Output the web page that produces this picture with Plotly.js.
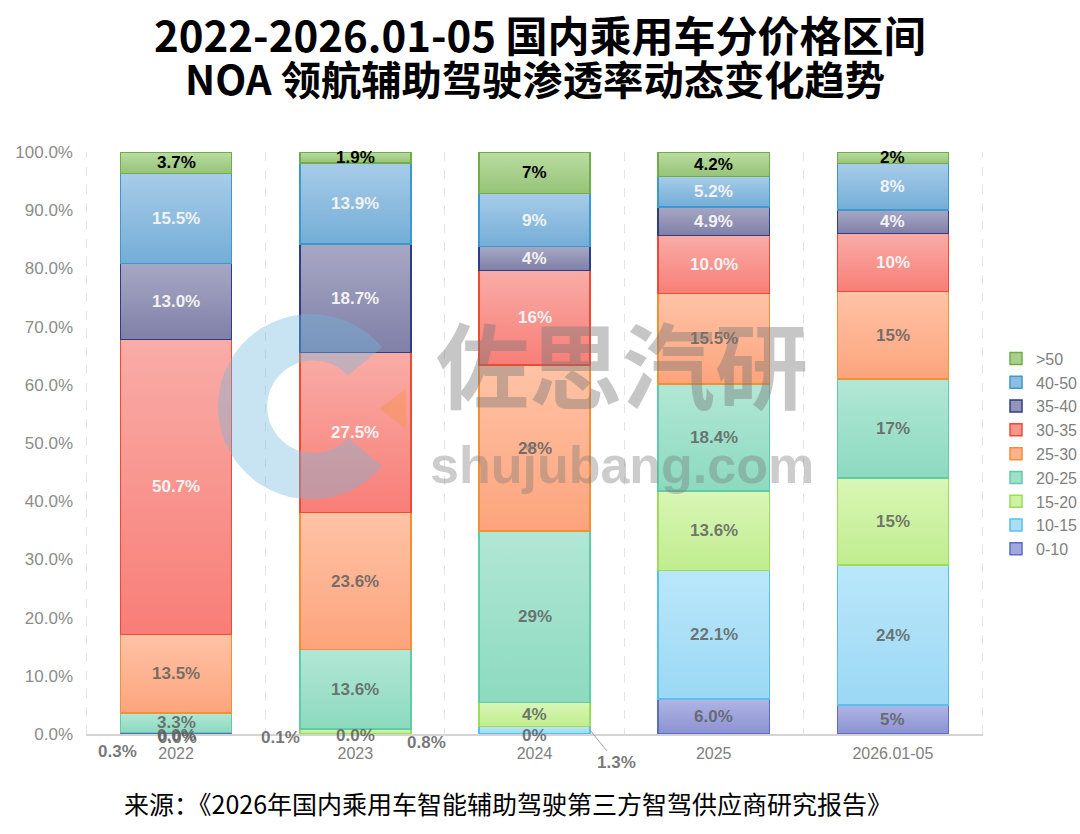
<!DOCTYPE html>
<html>
<head>
<meta charset="utf-8">
<script src="https://cdn.plot.ly/plotly-3.0.1.min.js"></script>
<style>html,body{margin:0;padding:0;background:#fff;}#chart{width:1080px;height:834px;}</style>
</head>
<body>
<div id="chart"></div>
<script>
// ---------- DATA ----------
var categories = ['2022', '2023', '2024', '2025', '2026.01-05'];
var seriesNames = ['0-10', '10-15', '15-20', '20-25', '25-30', '30-35', '35-40', '40-50', '>50'];

var v0_10   = [0.3, 0.1, 0, 6.0, 5];
var v10_15  = [0.0, 0.0, 1.3, 22.1, 24];
var v15_20  = [0.0, 0.8, 4, 13.6, 15];
var v20_25  = [3.3, 13.6, 29, 18.4, 17];
var v25_30  = [13.5, 23.6, 28, 15.5, 15];
var v30_35  = [50.7, 27.5, 16, 10.0, 10];
var v35_40  = [13.0, 18.7, 4, 4.9, 4];
var v40_50  = [15.5, 13.9, 9, 5.2, 8];
var v50     = [3.7, 1.9, 7, 4.2, 2];

var l0_10   = ['0.3%', '0.1%', '0%', '6.0%', '5%'];
var l10_15  = ['0.0%', '0.0%', '1.3%', '22.1%', '24%'];
var l15_20  = ['0.0%', '0.8%', '4%', '13.6%', '15%'];
var l20_25  = ['3.3%', '13.6%', '29%', '18.4%', '17%'];
var l25_30  = ['13.5%', '23.6%', '28%', '15.5%', '15%'];
var l30_35  = ['50.7%', '27.5%', '16%', '10.0%', '10%'];
var l35_40  = ['13.0%', '18.7%', '4%', '4.9%', '4%'];
var l40_50  = ['15.5%', '13.9%', '9%', '5.2%', '8%'];
var l50     = ['3.7%', '1.9%', '7%', '4.2%', '2%'];

var yTickVals = [0, 10, 20, 30, 40, 50, 60, 70, 80, 90, 100];
var yTickText = ['0.0%', '10.0%', '20.0%', '30.0%', '40.0%', '50.0%', '60.0%', '70.0%', '80.0%', '90.0%', '100.0%'];

// ---------- STYLE ----------
var values = [v0_10, v10_15, v15_20, v20_25, v25_30, v30_35, v35_40, v40_50, v50];
var labels = [l0_10, l10_15, l15_20, l20_25, l25_30, l30_35, l35_40, l40_50, l50];
var fills = ['#a1a7dc', '#aadff7', '#cdf2a2', '#a0e0cb', '#fdb28e', '#f8958e', '#9494b4', '#8dbddf', '#a8cf8c'];
var gradTop = ['#b0b5e5', '#bae7fa', '#d9f6b6', '#b2e7d6', '#ffc3a6', '#f9aca7', '#a7a7c4', '#a7cce9', '#badda2'];
var gradBot = ['#8a92d1', '#9bd8f4', '#c0ed8e', '#8cdabf', '#fca47c', '#f87e77', '#8080a8', '#74add6', '#96c378'];
var lines = ['#5b6bc8', '#56c1ee', '#99de55', '#5ecca6', '#f39033', '#ee4b35', '#2e3d8a', '#3a9ad0', '#70ad47'];
var GRAY = 'rgba(95,95,95,0.85)';
var txtColors = [GRAY, GRAY, GRAY, GRAY, GRAY, '#f2f2f2', '#f2f2f2', '#f2f2f2', '#000000'];
var BAR_W = 0.62;
var labelFont = {family: 'Liberation Sans, Arial, sans-serif', size: 17, weight: 700};

// label cells drawn beside the bar: [series, category, dx(cat units), xshift, yshift, leader ax, ay]
var callouts = [
  [0, 0, -0.325, 0, -18, null, null],
  [1, 0, 0, 0, -3, null, null],
  [2, 0, 0, 1, -5, null, null],
  [0, 1, -0.42, 0, -4, null, null],
  [1, 1, 0, 0, -2, null, null],
  [2, 1, 0.40, 0, -11, null, null],
  [0, 2, 0, 0, -1, null, null],
  [1, 2, BAR_W / 2, 0, 0, 26, 32]
];

var totals = categories.map(function (c, j) {
  return values.reduce(function (s, arr) { return s + arr[j]; }, 0);
});

var traces = seriesNames.map(function (name, i) {
  return {
    type: 'bar',
    name: name,
    x: categories,
    y: values[i],
    width: BAR_W,
    marker: {color: fills[i], line: {color: lines[i], width: 1.5}},
    hoverinfo: 'skip'
  };
});

function calloutFor(i, j) {
  for (var n = 0; n < callouts.length; n++) if (callouts[n][0] === i && callouts[n][1] === j) return callouts[n];
  return null;
}

var annotations = [];
seriesNames.forEach(function (name, i) {
  categories.forEach(function (cat, j) {
    var below = 0;
    for (var k = 0; k < i; k++) below += values[k][j];
    var mid = (below + values[i][j] / 2) / totals[j] * 100;
    var c = calloutFor(i, j);
    var a = {
      x: j, y: mid, xref: 'x', yref: 'y', showarrow: false,
      text: labels[i][j],
      font: Object.assign({}, labelFont, {color: txtColors[i]})
    };
    if (c) {
      a.x = j + c[2]; a.xshift = c[3]; a.yshift = c[4];
      a.font = Object.assign({}, labelFont, {color: GRAY});
      if (c[5] !== null) {
        a.showarrow = true; a.arrowhead = 0; a.arrowwidth = 1; a.arrowcolor = '#a0a0a0';
        a.ax = c[5]; a.ay = c[6]; a.standoff = 0;
      }
    }
    annotations.push(a);
  });
});

// watermark
annotations.push({
  xref: 'paper', yref: 'paper', x: 0.598, y: 0.64, showarrow: false,
  text: '佐思汽研', font: {family: 'Noto Sans CJK SC', size: 93, weight: 700, color: 'rgba(120,120,120,0.42)'}
});
annotations.push({
  xref: 'paper', yref: 'paper', x: 0.598, y: 0.462, showarrow: false,
  text: 'shujubang.com', font: {family: 'Liberation Sans, Arial, sans-serif', size: 52, weight: 700, color: 'rgba(120,120,120,0.38)'}
});
// titles
annotations.push({
  xref: 'paper', yref: 'paper', x: 0.5056, y: 1.2035, xanchor: 'center', yanchor: 'middle', showarrow: false,
  text: '2022-2026.01-05 国内乘用车分价格区间',
  font: {family: 'Noto Sans CJK SC', size: 42, weight: 700, color: '#000000'}
});
annotations.push({
  xref: 'paper', yref: 'paper', x: 0.5, y: 1.128, xanchor: 'center', yanchor: 'middle', showarrow: false,
  text: 'NOA 领航辅助驾驶渗透率动态变化趋势',
  font: {family: 'Noto Sans CJK SC', size: 40.3, weight: 700, color: '#000000'}
});
// source
annotations.push({
  xref: 'paper', yref: 'paper', x: 0.0401, y: -0.1186, xanchor: 'left', yanchor: 'middle', showarrow: false,
  text: '来源：《2026年国内乘用车智能辅助驾驶第三方智驾供应商研究报告》',
  font: {family: 'Noto Sans CJK SC', size: 25, color: '#000000'}
});

var edgeLines = [-0.5, categories.length - 0.5].map(function (xv) {
  return {type: 'line', xref: 'x', yref: 'paper', x0: xv, x1: xv, y0: 0, y1: 1,
    line: {color: '#e4e4e4', width: 1, dash: 'dash'}, layer: 'below'};
});

var logoSvg = '<svg xmlns="http://www.w3.org/2000/svg" width="200" height="200" viewBox="0 0 200 200">' +
  '<path d="M170.5,40.9 A92,92 0 1,0 170.5,159.1 L136.8,130.9 A46,46 0 1,1 136.8,69.1 Z" fill="rgb(110,185,222)" fill-opacity="0.38"/>' +
  '<path d="M168,102 L194,82 L194,122 Z" fill="rgb(245,150,90)" fill-opacity="0.55"/></svg>';

var layout = {
  width: 1080, height: 834,
  margin: {l: 86, r: 97, t: 152, b: 100, autoexpand: false},
  paper_bgcolor: '#ffffff', plot_bgcolor: '#ffffff',
  barmode: 'stack', barnorm: 'percent',
  showlegend: true,
  xaxis: {
    type: 'category',
    showline: true, linecolor: '#d4d4d4', linewidth: 1.5,
    ticks: '', tickson: 'boundaries',
    showgrid: true, gridcolor: '#e4e4e4', griddash: 'dash', gridwidth: 1,
    ticklabelstandoff: 4,
    tickfont: {family: 'Liberation Sans, Arial, sans-serif', size: 16, color: '#808080'},
    fixedrange: true
  },
  yaxis: {
    range: [0, 100], tickvals: yTickVals, ticktext: yTickText,
    showgrid: false, zeroline: false, showline: false, ticks: '',
    ticklabelstandoff: 12,
    tickfont: {family: 'Liberation Sans, Arial, sans-serif', size: 17, color: '#8c8c8c'},
    fixedrange: true
  },
  legend: {
    x: 1.0145, xanchor: 'left', y: 0.481, yanchor: 'middle',
    traceorder: 'reversed',
    font: {family: 'Liberation Sans, Arial, sans-serif', size: 16, color: '#808080'},
    bgcolor: 'rgba(0,0,0,0)'
  },
  shapes: edgeLines,
  annotations: annotations,
  images: [{
    source: 'data:image/svg+xml;charset=utf-8,' + encodeURIComponent(logoSvg),
    xref: 'paper', yref: 'paper',
    x: 0.1382, y: 0.7354, sizex: 0.225, sizey: 0.346,
    xanchor: 'left', yanchor: 'top', sizing: 'stretch', layer: 'above'
  }],
  hovermode: false
};

Plotly.newPlot('chart', traces, layout, {displayModeBar: false, staticPlot: true}).then(function (gd) {
  try {
    var svg = gd.querySelector('svg.main-svg');
    var defs = svg && svg.querySelector('defs');
    if (!defs) return;
    var NS = 'http://www.w3.org/2000/svg';
    seriesNames.forEach(function (n, i) {
      var g = document.createElementNS(NS, 'linearGradient');
      g.setAttribute('id', 'bargrad' + i);
      g.setAttribute('x1', '0'); g.setAttribute('y1', '0');
      g.setAttribute('x2', '0'); g.setAttribute('y2', '1');
      var s1 = document.createElementNS(NS, 'stop');
      s1.setAttribute('offset', '0'); s1.setAttribute('stop-color', gradTop[i]);
      var s2 = document.createElementNS(NS, 'stop');
      s2.setAttribute('offset', '1'); s2.setAttribute('stop-color', gradBot[i]);
      g.appendChild(s1); g.appendChild(s2);
      defs.appendChild(g);
    });
    var groups = gd.querySelectorAll('.barlayer .trace');
    groups.forEach(function (tg, n) {
      var idx = n;
      if (tg.__data__ && tg.__data__[0] && tg.__data__[0].trace) idx = tg.__data__[0].trace.index;
      tg.querySelectorAll('path').forEach(function (p) {
        p.style.fill = 'url(#bargrad' + idx + ')';
      });
    });
  } catch (e) {}
});
</script>
</body>
</html>
